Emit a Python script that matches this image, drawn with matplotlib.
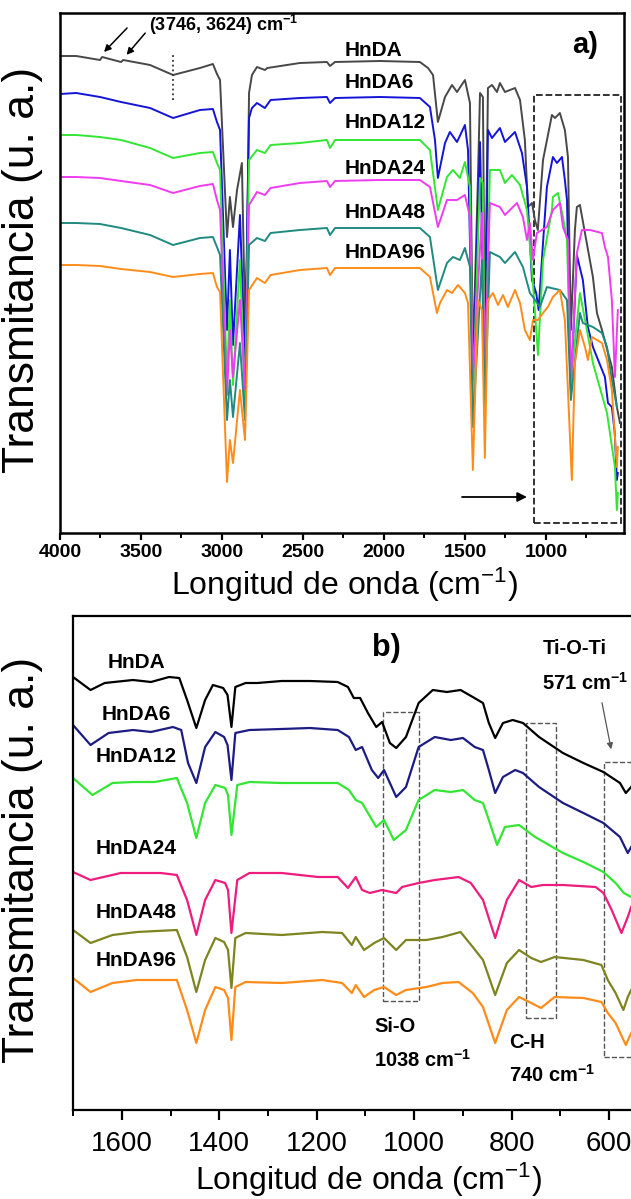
import matplotlib
matplotlib.use("Agg")
import matplotlib.pyplot as plt
from matplotlib.patches import Rectangle
from matplotlib.ticker import MultipleLocator

plt.rcParams['font.family'] = ['Liberation Sans', 'DejaVu Sans']
plt.rcParams['mathtext.fontset'] = 'custom'
plt.rcParams['mathtext.rm'] = 'Liberation Sans'
plt.rcParams['mathtext.bf'] = 'Liberation Sans:bold'
plt.rcParams['mathtext.it'] = 'Liberation Sans:italic'

# ---------------- Panel a data (wavenumber cm-1, transmittance a.u.) -------------
a_names = ["HnDA", "HnDA6", "HnDA12", "HnDA24", "HnDA48", "HnDA96"]
a_colors = ["#484848", "#1414d8", "#33e633", "#f03cf0", "#1f8a80", "#ff8c1a"]

a_hnda_wn = [4000, 3900, 3753, 3740, 3623, 3610, 3444, 3302, 3136, 3056, 3031, 3012, 2969, 2951, 2932, 2907, 2877, 2858, 2846, 2833, 2815, 2784, 2735, 2720, 2519, 2352, 2333, 2302, 2025, 1778, 1728, 1697, 1667, 1623, 1580, 1549, 1500, 1469, 1451, 1420, 1407, 1389, 1377, 1358, 1333, 1302, 1284, 1253, 1191, 1160, 1130, 1111, 1086, 1068, 1050, 1018, 963, 944, 914, 883, 864, 846, 821, 809, 790, 759, 710, 685, 654, 593, 562, 543]
a_hnda_t = [477, 477, 473, 476, 471, 473, 468, 458, 465, 469, 459, 453, 296, 336, 306, 343, 370, 213, 273, 440, 458, 466, 463, 465, 470, 471, 467, 471, 472, 471, 465, 458, 411, 436, 448, 441, 453, 430, 173, 353, 440, 436, 193, 445, 448, 441, 450, 441, 445, 433, 393, 326, 330, 313, 303, 373, 418, 415, 420, 403, 376, 203, 303, 326, 328, 300, 256, 220, 203, 166, 126, 110]

a_hnda6_wn = [4000, 3900, 3753, 3623, 3444, 3302, 3136, 3056, 3031, 3012, 2969, 2951, 2932, 2889, 2858, 2833, 2815, 2784, 2735, 2700, 2519, 2352, 2333, 2302, 2025, 1778, 1716, 1685, 1667, 1623, 1593, 1549, 1500, 1481, 1451, 1407, 1377, 1358, 1333, 1284, 1253, 1191, 1148, 1117, 1086, 1060, 1045, 1018, 994, 957, 932, 901, 883, 870, 846, 809, 790, 772, 741, 710, 636, 617, 593, 575, 562, 556]
a_hnda6_t = [439, 440, 436, 431, 425, 415, 423, 424, 411, 403, 203, 283, 188, 318, 173, 415, 425, 430, 425, 433, 435, 436, 430, 435, 436, 435, 426, 393, 355, 390, 401, 391, 408, 383, 153, 391, 163, 403, 395, 405, 391, 401, 380, 346, 253, 240, 223, 290, 346, 376, 370, 376, 353, 333, 143, 278, 265, 253, 206, 186, 156, 130, 126, 100, 53, 60]

a_hnda12_wn = [4000, 3900, 3753, 3623, 3444, 3302, 3136, 3056, 3031, 3012, 2969, 2951, 2932, 2889, 2858, 2833, 2784, 2735, 2700, 2519, 2352, 2333, 2302, 2025, 1778, 1716, 1667, 1611, 1574, 1531, 1500, 1469, 1451, 1407, 1390, 1377, 1346, 1284, 1253, 1210, 1160, 1117, 1086, 1049, 1018, 963, 957, 926, 895, 870, 846, 790, 747, 710, 623, 574, 562, 556]
a_hnda12_t = [398, 398, 396, 393, 385, 375, 380, 381, 370, 363, 153, 233, 148, 273, 133, 373, 383, 380, 388, 390, 393, 385, 393, 393, 393, 383, 323, 356, 363, 355, 371, 346, 133, 355, 350, 143, 363, 363, 350, 358, 348, 323, 263, 178, 273, 323, 336, 340, 316, 293, 153, 240, 203, 170, 120, 66, 23, 40]

a_hnda24_wn = [4000, 3900, 3753, 3623, 3444, 3302, 3136, 3056, 3031, 3012, 2969, 2951, 2932, 2889, 2858, 2833, 2784, 2735, 2700, 2519, 2352, 2333, 2302, 2025, 1778, 1716, 1667, 1611, 1549, 1500, 1469, 1451, 1395, 1377, 1346, 1284, 1253, 1179, 1142, 1117, 1099, 1080, 1056, 994, 957, 914, 895, 864, 846, 809, 778, 728, 654, 636, 617, 593, 574, 556]
a_hnda24_t = [356, 356, 355, 352, 348, 340, 347, 349, 333, 323, 138, 203, 156, 233, 143, 328, 341, 338, 345, 350, 352, 346, 352, 353, 353, 346, 306, 333, 333, 338, 316, 153, 320, 163, 330, 326, 318, 330, 316, 293, 310, 273, 300, 306, 323, 330, 306, 293, 148, 280, 303, 303, 300, 286, 276, 233, 156, 223]

a_hnda48_wn = [4000, 3900, 3753, 3623, 3444, 3302, 3136, 3056, 3031, 3012, 2969, 2951, 2932, 2889, 2858, 2833, 2784, 2735, 2700, 2519, 2352, 2333, 2302, 2025, 1778, 1716, 1667, 1611, 1574, 1531, 1500, 1469, 1451, 1395, 1377, 1346, 1284, 1253, 1191, 1142, 1099, 1080, 1037, 994, 914, 870, 846, 790, 772, 710, 654, 623, 593, 562]
a_hnda48_t = [310, 310, 309, 305, 298, 288, 295, 296, 286, 278, 113, 153, 116, 190, 113, 288, 295, 292, 300, 303, 305, 298, 305, 305, 305, 296, 243, 270, 276, 273, 285, 266, 106, 273, 123, 281, 276, 270, 281, 266, 240, 236, 226, 246, 243, 233, 133, 220, 210, 206, 200, 186, 153, 126]

a_hnda96_wn = [4000, 3900, 3753, 3623, 3444, 3302, 3136, 3056, 3031, 3012, 2969, 2951, 2932, 2889, 2858, 2833, 2784, 2735, 2700, 2519, 2352, 2333, 2302, 2025, 1778, 1716, 1673, 1654, 1611, 1580, 1543, 1500, 1481, 1451, 1420, 1395, 1377, 1358, 1327, 1296, 1265, 1235, 1191, 1160, 1130, 1099, 1080, 1049, 1018, 988, 957, 914, 883, 840, 821, 790, 759, 741, 716, 654, 623, 593, 574, 562, 556]
a_hnda96_t = [268, 268, 267, 264, 261, 256, 259, 260, 246, 241, 51, 93, 70, 143, 93, 243, 255, 250, 258, 263, 265, 258, 265, 265, 265, 256, 220, 230, 243, 240, 248, 240, 230, 63, 233, 223, 75, 233, 240, 228, 238, 226, 243, 230, 203, 193, 213, 213, 220, 226, 236, 243, 213, 53, 170, 203, 186, 173, 196, 190, 173, 143, 96, 66, 86]

a_wn = [a_hnda_wn, a_hnda6_wn, a_hnda12_wn, a_hnda24_wn, a_hnda48_wn, a_hnda96_wn]
a_t = [a_hnda_t, a_hnda6_t, a_hnda12_t, a_hnda24_t, a_hnda48_t, a_hnda96_t]
a_label_t = [483, 450, 410, 365, 321, 280]
a_ticks = [4000, 3500, 3000, 2500, 2000, 1500, 1000]

# ---------------- Panel b data -------------
b_names = ["HnDA", "HnDA6", "HnDA12", "HnDA24", "HnDA48", "HnDA96"]
b_colors = ["#000000", "#1c1c82", "#33e633", "#ee1c7c", "#7d8420", "#ff8c1a"]

b_hnda_wn = [1700, 1664, 1635, 1577, 1540, 1503, 1482, 1466, 1447, 1429, 1413, 1392, 1383, 1375, 1367, 1346, 1322, 1272, 1214, 1157, 1136, 1124, 1111, 1095, 1078, 1066, 1050, 1037, 1017, 991, 962, 933, 905, 880, 859, 847, 834, 818, 798, 777, 744, 695, 653, 612, 578, 566, 555]
b_hnda_t = [433, 420, 427, 430, 428, 433, 432, 410, 382, 410, 425, 422, 415, 383, 423, 427, 427, 429, 429, 428, 423, 412, 412, 397, 383, 388, 367, 362, 373, 407, 420, 418, 420, 413, 407, 387, 372, 387, 390, 387, 373, 357, 347, 338, 327, 317, 323]

b_hnda6_wn = [1700, 1664, 1627, 1577, 1540, 1495, 1478, 1464, 1447, 1429, 1408, 1390, 1383, 1375, 1367, 1338, 1272, 1214, 1157, 1134, 1120, 1107, 1087, 1074, 1062, 1037, 1017, 991, 958, 925, 900, 876, 859, 847, 834, 818, 793, 777, 744, 695, 653, 612, 578, 562, 555]
b_hnda6_t = [385, 365, 377, 380, 378, 383, 380, 347, 327, 363, 378, 373, 365, 330, 377, 380, 381, 382, 380, 373, 360, 363, 340, 332, 340, 313, 323, 363, 373, 370, 372, 363, 360, 340, 317, 333, 340, 337, 323, 307, 297, 287, 273, 257, 263]

b_hnda12_wn = [1700, 1660, 1619, 1577, 1532, 1487, 1466, 1447, 1429, 1408, 1388, 1382, 1375, 1363, 1338, 1272, 1214, 1157, 1134, 1120, 1107, 1078, 1062, 1042, 1017, 991, 958, 925, 900, 876, 859, 847, 830, 814, 785, 752, 695, 653, 612, 587, 570, 555]
b_hnda12_t = [332, 315, 327, 328, 328, 332, 307, 272, 307, 325, 322, 315, 275, 325, 328, 327, 327, 327, 320, 310, 307, 283, 290, 270, 280, 310, 320, 318, 320, 310, 307, 290, 265, 283, 285, 273, 257, 248, 238, 227, 217, 213]

b_hnda24_wn = [1700, 1664, 1602, 1520, 1487, 1466, 1447, 1429, 1408, 1388, 1382, 1375, 1363, 1338, 1272, 1197, 1157, 1136, 1120, 1107, 1091, 1066, 1037, 1025, 991, 958, 909, 884, 859, 834, 810, 785, 760, 736, 695, 628, 612, 595, 575, 562, 555]
b_hnda24_t = [238, 230, 237, 237, 235, 210, 175, 210, 230, 227, 220, 177, 230, 237, 237, 233, 233, 222, 233, 220, 217, 220, 217, 223, 227, 230, 233, 227, 210, 172, 210, 230, 223, 225, 225, 223, 217, 200, 177, 193, 203]

b_hnda48_wn = [1700, 1664, 1619, 1569, 1487, 1466, 1447, 1429, 1408, 1390, 1382, 1375, 1367, 1346, 1272, 1189, 1148, 1128, 1120, 1103, 1082, 1062, 1037, 1017, 975, 942, 905, 880, 859, 834, 810, 785, 760, 740, 712, 653, 616, 603, 587, 571, 562, 555]
b_hnda48_t = [180, 167, 175, 178, 180, 153, 118, 150, 172, 168, 160, 122, 172, 177, 175, 178, 177, 165, 173, 160, 167, 172, 160, 170, 170, 173, 178, 163, 150, 115, 147, 160, 152, 148, 153, 150, 145, 130, 117, 100, 113, 120]

b_hnda96_wn = [1700, 1664, 1619, 1569, 1487, 1466, 1447, 1429, 1408, 1390, 1382, 1375, 1367, 1346, 1272, 1189, 1148, 1128, 1120, 1103, 1082, 1062, 1037, 1017, 975, 942, 909, 880, 859, 834, 810, 785, 760, 740, 712, 653, 616, 603, 587, 566, 555]
b_hnda96_t = [132, 118, 127, 130, 130, 100, 67, 100, 123, 120, 112, 70, 123, 128, 127, 130, 127, 117, 125, 113, 120, 123, 115, 120, 123, 127, 128, 117, 103, 67, 100, 113, 107, 102, 113, 112, 108, 97, 87, 65, 77]

b_wn = [b_hnda_wn, b_hnda6_wn, b_hnda12_wn, b_hnda24_wn, b_hnda48_wn, b_hnda96_wn]
b_t = [b_hnda_t, b_hnda6_t, b_hnda12_t, b_hnda24_t, b_hnda48_t, b_hnda96_t]
b_label_t = [447, 395, 353, 262, 197, 150]
b_ticks = [1600, 1400, 1200, 1000, 800, 600]

# ---------------- Figure -------------
W, H = 631, 1199
fig = plt.figure(figsize=(W / 100, H / 100), dpi=100)

def px_axes(l, t, r, b):
    return fig.add_axes([l / W, 1 - b / H, (r - l) / W, (b - t) / H])

ylab = "Transmitancia (u. a.)"
xlab = r"Longitud de onda (cm$^{\mathrm{-1}}$)"

# ---- Panel a ----
axa = px_axes(60, 13, 624, 533)
for wn, t, c in zip(a_wn, a_t, a_colors):
    axa.plot(wn, t, color=c, lw=1.4)
axa.set_xlim(4000, 518)
axa.set_ylim(0, 520)
axa.set_yticks([])
axa.set_xticks(a_ticks)
axa.xaxis.set_minor_locator(MultipleLocator(250))
axa.tick_params(axis='x', which='major', direction='out', length=5, width=1.6, pad=3,
                labelsize=14)
axa.tick_params(axis='x', which='minor', direction='out', length=3.5, width=1.4)
for lab in axa.get_xticklabels():
    lab.set_fontweight('bold')
for s in axa.spines.values():
    s.set_linewidth(1.8)
axa.set_xlabel(xlab, fontsize=23, va='center')
axa.xaxis.set_label_coords(0.505, -0.100)
axa.set_ylabel(ylab, fontsize=32, va='center')
axa.yaxis.set_label_coords(-0.067, 0.506)

for name, yl in zip(a_names, a_label_t):
    axa.text(2241, yl, name, fontsize=15, fontweight='bold', ha='left', va='center')
axa.text(760, 488, "a)", fontsize=21, fontweight='bold', ha='center', va='center')
axa.text(3450, 508, r"(3746, 3624) cm$^{\mathbf{-1}}$", fontsize=13, fontweight='bold',
         ha='left', va='center')
axa.annotate('', xy=(3740, 479), xytext=(3574, 507),
             arrowprops=dict(arrowstyle='-|>', color='k', lw=1.1, mutation_scale=10))
axa.annotate('', xy=(3600, 476), xytext=(3463, 502),
             arrowprops=dict(arrowstyle='-|>', color='k', lw=1.1, mutation_scale=10))
axa.plot([3302, 3302], [433, 478], ls=':', color='#333333', lw=1.3)
axa.add_patch(Rectangle((1075, 10), 535 - 1075, 428, fill=False, ls='--',
                        lw=1.3, ec='#222222'))
axa.annotate('', xy=(1100, 36), xytext=(1535, 36),
             arrowprops=dict(arrowstyle='-|>', color='k', lw=1.3, mutation_scale=14))

# ---- Panel b ----
axb = px_axes(73, 616, 638.5, 1110)
for wn, t, c in zip(b_wn, b_t, b_colors):
    axb.plot(wn, t, color=c, lw=1.6)
axb.set_xlim(1700, 540)
axb.set_ylim(0, 494)
axb.set_yticks([])
axb.set_xticks(b_ticks)
axb.xaxis.set_minor_locator(MultipleLocator(100))
axb.tick_params(axis='x', which='major', direction='out', length=7, width=1.6, pad=8,
                labelsize=20)
axb.tick_params(axis='x', which='minor', direction='out', length=4.5, width=1.4)
for s in axb.spines.values():
    s.set_linewidth(1.6)
axb.spines['right'].set_visible(False)
axb.set_xlabel(xlab, fontsize=23, va='center')
axb.xaxis.set_label_coords(0.523, -0.1417)
axb.set_ylabel(ylab, fontsize=32, va='center')
axb.yaxis.set_label_coords(-0.090, 0.506)

for name, yl in zip(b_names, b_label_t):
    axb.text(1570, yl, name, fontsize=15, fontweight='bold', ha='center', va='center')
axb.text(1058, 462, "b)", fontsize=22, fontweight='bold', ha='center', va='center')

box_kw = dict(fill=False, ls='--', lw=1.0, ec='#555555')
axb.add_patch(Rectangle((1064, 109), 990 - 1064, 398 - 109, **box_kw))
axb.add_patch(Rectangle((771, 92), 709 - 771, 387 - 92, **box_kw))
axb.add_patch(Rectangle((610, 53), 530 - 610, 348 - 53, clip_on=True, **box_kw))

ann_kw = dict(fontsize=14.5, fontweight='bold', ha='left', va='center')
axb.text(1082, 83, "Si-O", **ann_kw)
axb.text(1082, 50, r"1038 cm$^{\mathbf{-1}}$", **ann_kw)
axb.text(806, 68, "C-H", **ann_kw)
axb.text(806, 35, r"740 cm$^{\mathbf{-1}}$", **ann_kw)
axb.text(737, 462, "Ti-O-Ti", **ann_kw)
axb.text(737, 427, r"571 cm$^{\mathbf{-1}}$", **ann_kw)
axb.annotate('', xy=(595, 358), xytext=(616, 410),
             arrowprops=dict(arrowstyle='-|>', color='#555555', lw=0.9, mutation_scale=9))

fig.savefig("out.png", dpi=100)
